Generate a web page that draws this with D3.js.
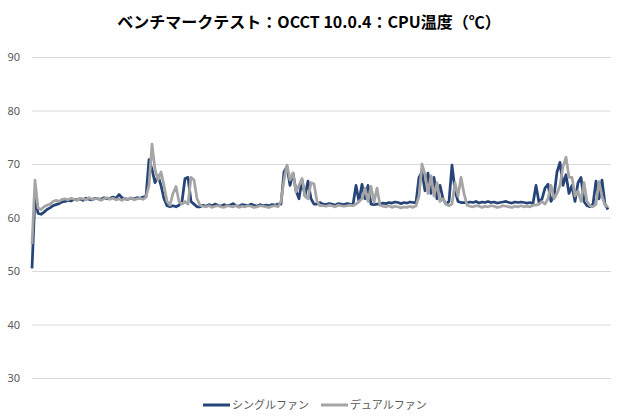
<!DOCTYPE html>
<html><head><meta charset="utf-8">
<script src="https://cdn.jsdelivr.net/npm/d3@7"></script>
<style>body{margin:0;background:#fff}svg{display:block}</style>
</head><body>
<svg id="c" width="620" height="420"></svg>
<script>
const title = "ベンチマークテスト：OCCT 10.0.4：CPU温度（℃）";
const seriesNames = ["シングルファン", "デュアルファン"];
const yTicks = [30, 40, 50, 60, 70, 80, 90];

const single = [
50.5,64,60.8,60.6,61.0,61.5,61.8,62.2,62.4,62.6,62.9,
63.0,63.2,63.1,63.4,63.3,63.5,63.2,63.6,63.4,63.3,63.6,63.5,63.4,63.7,63.5,63.6,63.8,63.6,64.3,63.7,63.5,63.4,63.6,63.5,63.7,63.6,63.8,63.9,
70.8,69,66.5,67.8,66,63.5,62.2,62,62.2,62,62.3,63,67.3,67.5,63,62.5,62,62,
62.3,62.1,62.4,62.2,62.5,62.3,62.1,62.4,62.2,62.3,62.6,62.2,62.1,62.4,62.3,62.2,62.5,62.3,62.1,62.4,62.2,62.3,62.2,62.4,62.3,62.5,
62.5,68.5,69.5,66,68.3,65,63.5,67,64,66.8,63.5,62.5,62.5,62.8,
62.5,62.4,62.6,62.5,62.3,62.6,62.5,62.4,62.6,62.5,62.4,
66,63,66.2,63.5,66,62.5,62.4,62.5,62.5,
62.7,62.6,62.8,62.7,62.9,62.8,62.6,62.8,62.7,62.9,62.8,62.8,
67.5,68.5,65,68.3,64.5,67.5,63.5,66,63.5,62.5,63,69.8,65,63,62.8,62.8,62.8,
62.9,62.8,63.0,62.7,62.9,62.8,63.0,62.8,62.9,62.7,62.8,62.9,63.0,62.8,62.7,62.9,62.8,62.9,62.8,62.7,62.8,62.6,
66,62.8,63.5,65.5,66.2,63,64,68.5,70.3,66,68,64.5,66,63,66.5,67.5,63,62.2,62,62.5,66.8,63.5,67,62.5,61.5
];
const dual = [
55,67,61.8,61.5,62.0,62.3,62.5,63.0,63.2,63.0,63.4,
63.5,63.3,63.6,63.4,63.2,63.6,63.5,63.3,63.7,63.4,63.5,63.6,63.2,63.5,63.7,63.4,63.6,63.3,63.5,63.2,63.6,63.4,63.7,63.3,63.5,63.6,63.4,63.8,
66,73.7,69,67,68.5,66,63,62.3,64.5,65.8,63,62.5,63,62.5,67.5,67,63.5,62.3,
62.1,62.0,62.2,61.9,62.1,62.2,62.0,61.9,62.2,62.1,62.0,62.2,61.9,62.1,62.0,62.2,62.1,61.9,62.0,62.2,62.1,62.0,61.9,62.1,62.2,62.0,
63,67,69.8,67,68.3,64.8,66,67.3,64,63.5,66.5,66.3,63,62.2,
62.2,62.1,62.3,62.2,62.0,62.3,62.2,62.1,62.2,62.3,62.2,
62.5,63,63.5,65.5,63,65.8,62.8,65.5,62.3,
62.1,62.0,62.2,61.9,62.1,62.0,61.8,62.0,61.9,62.1,61.9,62.2,
64,70,68,64.5,67.8,64,66.5,63,63.5,62.5,62.2,62.5,66.5,64,67.5,64.5,62.3,
62.1,62.0,62.2,62.1,61.9,62.1,62.0,62.2,62.1,61.9,62.0,62.2,62.1,62.0,61.9,62.1,62.0,62.2,62.0,62.1,62.0,62.3,
62.3,62.5,63,62.5,63.5,66,63.5,64.5,66,69.5,71.3,67.5,67.5,64,65,63,66.5,63,62.2,62,62.5,66.7,64,62.3,62
];
const index = d3.range(single.length);

const svg = d3.select("#c");
const m = {l: 32, r: 611, t: 57, b: 378};
const x = d3.scaleLinear().domain([0, index.length - 1]).range([m.l, 608]);
const y = d3.scaleLinear().domain([30, 90]).range([m.b, m.t]);

svg.append("text").attr("x", 309).attr("y", 28).attr("text-anchor", "middle")
  .attr("font-family", "'Noto Sans CJK JP', sans-serif").attr("font-weight", "bold")
  .attr("font-size", 16).attr("fill", "#000").text(title);

const yAxis = d3.axisLeft(y).tickValues(yTicks).tickSize(-(m.r - m.l)).tickPadding(12);
const ga = svg.append("g").attr("transform", `translate(${m.l},0)`).call(yAxis);
ga.select(".domain").remove();
ga.selectAll(".tick line").attr("stroke", "#d9d9d9").attr("stroke-width", 1);
ga.selectAll(".tick text").attr("fill", "#595959").attr("font-size", 11)
  .attr("font-family", "'Noto Sans', 'DejaVu Sans', sans-serif");

const colors = ["#264478", "#a5a5a5"];
const line = d3.line().x((d, i) => x(index[i])).y(d => y(d));
[single, dual].forEach((s, k) => {
  svg.append("path").datum(s).attr("d", line).attr("fill", "none")
    .attr("stroke", colors[k]).attr("stroke-width", 2.75).attr("stroke-linejoin", "round");
});

const lg = svg.append("g").attr("font-family", "'Noto Sans CJK JP', sans-serif").attr("font-size", 11);
const lx = [203, 321];
seriesNames.forEach((n, k) => {
  lg.append("line").attr("x1", lx[k]).attr("x2", lx[k] + 27).attr("y1", 405).attr("y2", 405)
    .attr("stroke", colors[k]).attr("stroke-width", 3);
  lg.append("text").attr("x", lx[k] + 29).attr("y", 409).attr("fill", "#595959").text(n);
});
</script>
</body></html>
